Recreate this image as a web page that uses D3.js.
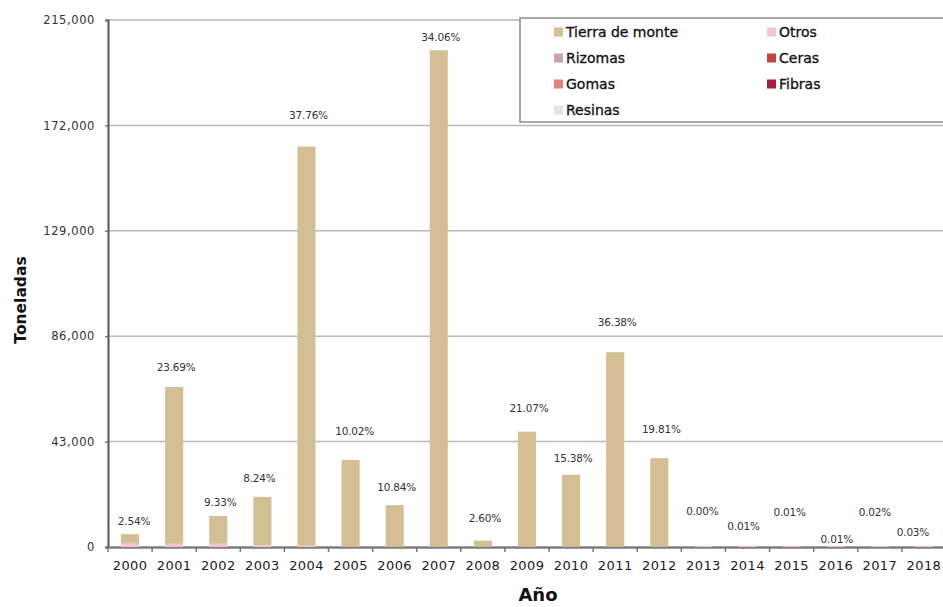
<!DOCTYPE html>
<html><head><meta charset="utf-8">
<script src="https://cdn.jsdelivr.net/npm/d3@7"></script>
<style>body{margin:0;background:#fff}svg{display:block}text{font-family:"DejaVu Sans",sans-serif}</style>
</head><body>
<script>
const years = ["2000","2001","2002","2003","2004","2005","2006","2007","2008","2009","2010","2011","2012","2013","2014","2015","2016","2017","2018"];
const tierra  = [3600,63900,11300,19800,162800,35300,16900,202500,2500,46900,29300,79300,36100,0,0,0,0,0,0];
const otros   = [1600,1300,1300,600,500,200,150,150,100,150,150,150,150,450,450,450,450,450,450];
const rizomas = [50,50,50,50,50,0,0,0,0,0,0,0,0,20,20,20,20,20,20];
const ceras   = [0,0,0,0,0,0,0,0,0,0,0,0,0,5,5,5,5,5,5];
const gomas   = [0,0,0,0,0,0,0,0,0,0,0,0,0,5,5,5,5,5,5];
const fibras  = [0,0,0,0,0,0,0,0,0,0,0,0,0,5,5,5,5,5,5];
const resinas = [0,0,0,0,0,0,0,0,0,0,0,0,0,5,5,5,5,5,5];
const pctLabels = ["2.54%","23.69%","9.33%","8.24%","37.76%","10.02%","10.84%","34.06%","2.60%","21.07%","15.38%","36.38%","19.81%","0.00%","0.01%","0.01%","0.01%","0.02%","0.03%"];
const yTicks = [0,43000,86000,129000,172000,215000];
const seriesNames = ["Tierra de monte","Otros","Rizomas","Ceras","Gomas","Fibras","Resinas"];

// layout (not data): label lift above bar top and horizontal nudge, px
const labelLift = [13,20,14,19,31,29,18,13,22,23,16,30,29,34,19,33,6,33,13];
const labelNudge = [4,2,2,-3,2,4,2,2,2,2,2,2,2,-1,-4,-2,1,-5,-11];
const colors = {"Tierra de monte":"#d4bf94","Otros":"#f2c6cb","Rizomas":"#c9a3ab","Ceras":"#c0473f","Gomas":"#e0817c","Fibras":"#a81c43","Resinas":"#e4e2ee"};

const W = 943, H = 607;
const svg = d3.select("body").append("svg").attr("width", W).attr("height", H);

const x = d3.scaleBand().domain(years).range([108, 946]).padding(0);
const y = d3.scaleLinear().domain([0, 215000]).range([547, 20]);

const rows = years.map((yr, i) => ({year: yr, "Tierra de monte": tierra[i], "Otros": otros[i], "Rizomas": rizomas[i], "Ceras": ceras[i], "Gomas": gomas[i], "Fibras": fibras[i], "Resinas": resinas[i]}));
const stackOrder = ["Otros","Rizomas","Ceras","Gomas","Fibras","Resinas","Tierra de monte"];
const stacked = d3.stack().keys(stackOrder)(rows);

// gridlines
svg.append("g").selectAll("line").data(yTicks.filter(d => d > 0)).join("line")
  .attr("x1", 108).attr("x2", W).attr("y1", d => y(d)).attr("y2", d => y(d))
  .attr("stroke", "#b9b9b9").attr("stroke-width", 1.5);

// y axis
const yAxis = d3.axisLeft(y).tickValues(yTicks).tickSize(3).tickPadding(10).tickFormat(d3.format(","));
const gy = svg.append("g").attr("transform", "translate(108,0)").call(yAxis);
gy.select(".domain").attr("stroke", "#555").attr("stroke-width", 2);
gy.selectAll(".tick line").attr("stroke", "#777").attr("stroke-width", 1.5);
gy.selectAll(".tick text").attr("font-size", 11.5).attr("fill", "#333").attr("letter-spacing", 0.6).attr("font-family", "DejaVu Sans");

// x axis
const xAxis = d3.axisBottom(x).tickSize(0).tickPadding(14);
const gx = svg.append("g").attr("transform", "translate(0,547)").call(xAxis);
gx.select(".domain").attr("stroke", "#7d7d7d").attr("stroke-width", 2.5);
gx.selectAll(".tick text").attr("font-size", 13).attr("fill", "#1a1a1a").attr("letter-spacing", 0.4).attr("font-family", "DejaVu Sans");
// band boundary ticks
svg.append("g").selectAll("line").data(years).join("line")
  .attr("x1", d => x(d)).attr("x2", d => x(d)).attr("y1", 547).attr("y2", 552)
  .attr("stroke", "#777").attr("stroke-width", 1.5);

// bars
const bw = x.bandwidth() * 0.41;
const off = (x.bandwidth() - bw) / 2;
svg.append("g").selectAll("g").data(stacked).join("g")
  .attr("fill", d => colors[d.key])
  .selectAll("rect").data(d => d).join("rect")
  .attr("x", d => x(d.data.year) + off)
  .attr("width", bw)
  .attr("y", d => y(d[1]))
  .attr("height", d => Math.max(0, y(d[0]) - y(d[1])));

// percent labels
svg.append("g").selectAll("text").data(years).join("text")
  .attr("x", (d, i) => x(d) + x.bandwidth() / 2 + labelNudge[i])
  .attr("y", (d, i) => y(stacked[stacked.length - 1][i][1]) - labelLift[i])
  .attr("dy", "0.35em")
  .attr("text-anchor", "middle")
  .attr("font-size", 10.5).attr("fill", "#333").attr("letter-spacing", -0.2)
  .text((d, i) => pctLabels[i]);

// axis titles
svg.append("text").attr("transform", "translate(26,300) rotate(-90)")
  .attr("text-anchor", "middle").attr("font-size", 15.5).attr("font-weight", "bold").attr("fill", "#111")
  .text("Toneladas");
svg.append("text").attr("x", 538).attr("y", 601)
  .attr("text-anchor", "middle").attr("font-size", 18).attr("font-weight", "bold").attr("fill", "#111")
  .text("Año");

// legend
const lg = svg.append("g");
lg.append("rect").attr("x", 520).attr("y", 18).attr("width", 440).attr("height", 104)
  .attr("fill", "#fff").attr("stroke", "#8a8a8a").attr("stroke-width", 1.5);
const items = lg.selectAll("g.item").data(seriesNames).join("g").attr("class", "item")
  .attr("transform", (d, i) => `translate(${i % 2 === 0 ? 554 : 767},${32 + Math.floor(i / 2) * 26})`);
items.append("rect").attr("x", 0).attr("y", -4.5).attr("width", 9).attr("height", 9).attr("fill", d => colors[d]);
items.append("text").attr("x", 12).attr("dy", "0.35em").attr("font-size", 14).attr("fill", "#151515")
  .attr("stroke", "#151515").attr("stroke-width", 0.35)
  .text(d => d);
</script>
</body></html>
